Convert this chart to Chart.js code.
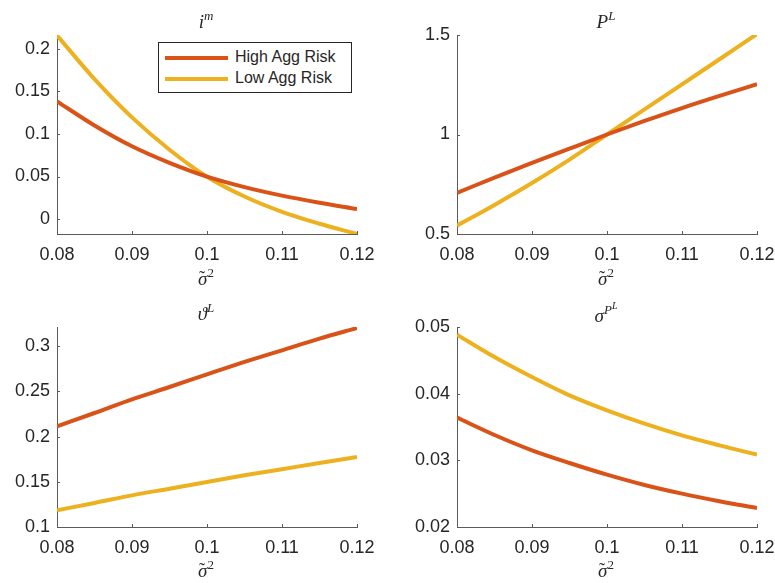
<!DOCTYPE html>
<html>
<head>
<meta charset="utf-8">
<script src="https://cdn.jsdelivr.net/npm/chart.js@4/dist/chart.umd.min.js"></script>
<style>
    body { margin: 0; background: #fff; }
    #wrap { position: relative; width: 775px; height: 583px; overflow: hidden; font-family: "Liberation Sans", Arial, sans-serif; color: #262626; }
    canvas { position: absolute; }
    .math { position: absolute; font-family: "Liberation Serif", "DejaVu Serif", serif; font-style: italic; font-size: 19px; transform: translateX(-50%); white-space: nowrap; line-height: 1; }
    .math sup { font-size: 13px; vertical-align: 8px; }
    .math sup sup { font-size: 10px; vertical-align: 5px; }
    .math sup.n { font-style: normal; }
    .sig { position: relative; display: inline-block; }
    .til { position: absolute; left: 1px; top: 0px; font-style: normal; font-size: 18px; }
    .legend { position: absolute; left: 158px; top: 42px; width: 192px; height: 49px; border: 1px solid #262626; background: #fff; font-size: 16px; }
    .legend div { position: absolute; left: 6px; height: 20px; }
    .legend span.ln { position: absolute; left: 0; top: 8px; width: 63px; height: 4px; }
    .legend span.tx { position: absolute; left: 70px; top: 0px; white-space: nowrap; }
</style>
</head>
<body>
<div id="wrap">
    <canvas id="c_im" style="left:0px; top:0px; width:390px; height:290px"></canvas>
    <canvas id="c_pl" style="left:400px; top:0px; width:390px; height:290px"></canvas>
    <canvas id="c_th" style="left:0px; top:292px; width:390px; height:291px"></canvas>
    <canvas id="c_sp" style="left:400px; top:292px; width:390px; height:291px"></canvas>

    <div class="math" style="left:206px; top:9px">i<sup>m</sup></div>
    <div class="math" style="left:606px; top:9px">P<sup>L</sup></div>
    <div class="math" style="left:206px; top:301px">&#977;<sup>L</sup></div>
    <div class="math" style="left:606px; top:301px">&sigma;<sup>P<sup>L</sup></sup></div>

    <div class="math" style="left:206px; top:266px"><span class="sig">&sigma;<span class="til">&#732;</span></span><sup class="n">2</sup></div>
    <div class="math" style="left:606px; top:266px"><span class="sig">&sigma;<span class="til">&#732;</span></span><sup class="n">2</sup></div>
    <div class="math" style="left:206px; top:558px"><span class="sig">&sigma;<span class="til">&#732;</span></span><sup class="n">2</sup></div>
    <div class="math" style="left:606px; top:558px"><span class="sig">&sigma;<span class="til">&#732;</span></span><sup class="n">2</sup></div>

    <div class="legend">
        <div style="top:5px"><span class="ln" style="background:#D95319"></span><span class="tx">High Agg Risk</span></div>
        <div style="top:26px"><span class="ln" style="background:#EDB120"></span><span class="tx">Low Agg Risk</span></div>
    </div>
</div>
<script>
// x axis: sigma tilde squared
sigma2 = [0.08, 0.085, 0.09, 0.095, 0.1, 0.105, 0.11, 0.115, 0.12]
xTicks = [0.08, 0.09, 0.1, 0.11, 0.12]
seriesNames = ['High Agg Risk', 'Low Agg Risk']

// i^m
imHigh = [0.1384, 0.1100, 0.0855, 0.0660, 0.0498, 0.0375, 0.0275, 0.0192, 0.0118]
imLow  = [0.2160, 0.1645, 0.1195, 0.0815, 0.0498, 0.0265, 0.0085, -0.0055, -0.0176]

// P^L
plHigh = [0.707, 0.783, 0.857, 0.929, 1.0, 1.068, 1.133, 1.194, 1.2525]
plLow  = [0.542, 0.646, 0.756, 0.874, 1.0, 1.126, 1.252, 1.378, 1.505]

// vartheta^L
thHigh = [0.2114, 0.2262, 0.2413, 0.2550, 0.2690, 0.2827, 0.2956, 0.3085, 0.3203]
thLow  = [0.1185, 0.1266, 0.1350, 0.1424, 0.1498, 0.1572, 0.1640, 0.1708, 0.1775]

// sigma^{P^L}
spHigh = [0.0364, 0.0338, 0.0315, 0.0296, 0.02785, 0.0263, 0.0250, 0.02387, 0.02285]
spLow  = [0.04885, 0.0455, 0.0425, 0.03975, 0.0375, 0.0355, 0.03375, 0.03225, 0.03085]

red = '#D95319'
yellow = '#EDB120'
axisColor = '#5a5a5a'
textColor = '#262626'

Chart.defaults.font.family = '"Liberation Sans", Arial, Helvetica, sans-serif'
Chart.defaults.font.size = 18
Chart.defaults.color = textColor

function fmt(v) {
    return String(parseFloat(v.toFixed(4)))
}

// MATLAB style ticks pointing into the axes
innerTicks = {
    id: 'innerTicks',
    afterDraw(chart) {
        const ctx = chart.ctx
        const a = chart.chartArea
        const xs = chart.scales.x
        const ys = chart.scales.y
        ctx.save()
        ctx.strokeStyle = axisColor
        ctx.lineWidth = 1
        ctx.beginPath()
        xs.ticks.forEach((t) => {
            const px = Math.round(xs.getPixelForValue(t.value)) + 0.5
            ctx.moveTo(px, a.bottom)
            ctx.lineTo(px, a.bottom - 3)
        })
        ys.ticks.forEach((t) => {
            const py = Math.round(ys.getPixelForValue(t.value)) + 0.5
            ctx.moveTo(a.left, py)
            ctx.lineTo(a.left + 3, py)
        })
        ctx.stroke()
        ctx.restore()
    }
}

function makeData(high, low) {
    return {
        datasets: [
            { label: seriesNames[0], data: sigma2.map((x, i) => ({ x: x, y: high[i] })), borderColor: red, backgroundColor: red },
            { label: seriesNames[1], data: sigma2.map((x, i) => ({ x: x, y: low[i] })), borderColor: yellow, backgroundColor: yellow }
        ]
    }
}

function getConfig(high, low, yMin, yMax, yStep) {
    config = {
        type: 'line',
        data: makeData(high, low),
        options: {
            animation: false,
            responsive: false,
            layout: { padding: { left: 0, right: 33, top: 35, bottom: 0 } },
            elements: {
                line: { borderWidth: 4, cubicInterpolationMode: 'monotone', fill: false },
                point: { radius: 0 }
            },
            plugins: {
                legend: { display: false },
                tooltip: { enabled: false }
            },
            scales: {
                x: {
                    type: 'linear',
                    min: 0.08,
                    max: 0.12,
                    afterBuildTicks: (s) => { s.ticks = xTicks.map((v) => ({ value: v })) },
                    afterFit: (s) => { s.height = 56 },
                    grid: { display: false, drawTicks: false },
                    border: { display: true, color: axisColor, width: 1 },
                    ticks: { padding: 10, maxRotation: 0, autoSkip: false, callback: (v) => fmt(v) }
                },
                y: {
                    min: yMin,
                    max: yMax,
                    afterFit: (s) => { s.width = 57 },
                    grid: { display: false, drawTicks: false },
                    border: { display: true, color: axisColor, width: 1 },
                    ticks: { stepSize: yStep, includeBounds: false, padding: 7, callback: (v) => fmt(v) }
                }
            }
        },
        plugins: [innerTicks]
    }
    return config
}

function setup(id, w, h) {
    const c = document.getElementById(id)
    c.width = w
    c.height = h
    return c
}

new Chart(setup('c_im', 390, 290), getConfig(imHigh, imLow, -0.0176, 0.2164, 0.05))
new Chart(setup('c_pl', 390, 290), getConfig(plHigh, plLow, 0.5, 1.5, 0.5))
new Chart(setup('c_th', 390, 291), getConfig(thHigh, thLow, 0.1, 0.3214, 0.05))
new Chart(setup('c_sp', 390, 291), getConfig(spHigh, spLow, 0.02, 0.05, 0.01))
</script>
</body>
</html>
